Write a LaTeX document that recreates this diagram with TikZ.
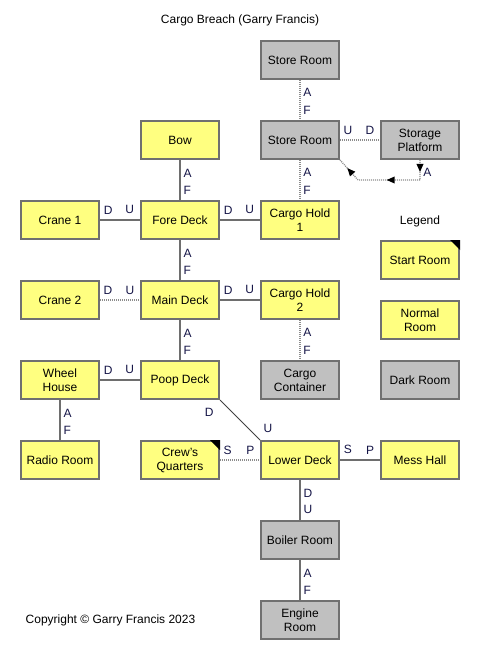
\documentclass[tikz,border=0pt]{standalone}
\usepackage{fontspec}
\setmainfont{Liberation Sans}
\usepackage{tikz}
\usetikzlibrary{arrows.meta,decorations.markings}
\definecolor{roomyellow}{RGB}{255, 255, 128}
\definecolor{roomgray}{RGB}{192, 192, 192}
\definecolor{edgegray}{RGB}{112, 112, 112}
\definecolor{linkgray}{RGB}{110, 110, 110}
\definecolor{dotgray}{RGB}{140, 140, 140}
\definecolor{labelnavy}{RGB}{20, 20, 70}

\begin{document}
\begin{tikzpicture}[x=0.75pt, y=-0.75pt,
    every node/.style={font=\fontsize{9}{10.5}\selectfont},
    room/.style={rectangle, draw=edgegray, line width=1.5pt, fill=roomyellow, minimum width=58.5pt, minimum height=28.5pt, inner sep=1pt, align=center},
    darkroom/.style={room, fill=roomgray},
    conn/.style={draw=linkgray, line width=1.4pt},
    dconn/.style={draw=dotgray, line width=1pt, dash pattern=on 0.75pt off 0.75pt},
    lbl/.style={inner sep=1pt, text=labelnavy},
    hl/.style={lbl, pos=0, anchor=south west, xshift=1.25pt, yshift=2.75pt},
    hr/.style={lbl, pos=1, anchor=south east, xshift=-2.75pt, yshift=2.75pt},
    vt/.style={lbl, pos=0, anchor=north west, xshift=1pt, yshift=-5pt},
    vb/.style={lbl, pos=1, anchor=south west, xshift=1pt, yshift=2.75pt}
]
\useasboundingbox (0,0) rectangle (480,660);

% Title
\node (title) at (240,20) {Cargo Breach (Garry Francis)};

% Rooms
\node[darkroom] (store1) at (300,60) {Store Room};
\node[room] (bow) at (180,140) {Bow};
\node[darkroom] (store2) at (300,140) {Store Room};
\node[darkroom] (plat) at (420,140) {Storage\\Platform};
\node[room] (crane1) at (60,220) {Crane 1};
\node[room] (fore) at (180,220) {Fore Deck};
\node[room] (hold1) at (300,220) {Cargo Hold\\1};
\node[room] (crane2) at (60,300) {Crane 2};
\node[room] (main) at (180,300) {Main Deck};
\node[room] (hold2) at (300,300) {Cargo Hold\\2};
\node[room] (wheel) at (60,380) {Wheel\\House};
\node[room] (poop) at (180,380) {Poop Deck};
\node[darkroom] (container) at (300,380) {Cargo\\Container};
\node[room] (radio) at (60,460) {Radio Room};
\node[room] (crew) at (180,460) {Crew{\char"27}s\\Quarters};
\node[room] (lower) at (300,460) {Lower Deck};
\node[room] (mess) at (420,460) {Mess Hall};
\node[darkroom] (boiler) at (300,540) {Boiler Room};
\node[darkroom] (engine) at (300,620) {Engine\\Room};

% Start room marker
\fill[black] (crew.north east) -- ++(-10,0) -- ++(10,10) -- cycle;

% Connections
\draw[dconn] (store1) -- node[vt] {A} node[vb] {F} (store2);
\draw[dconn] (store2) -- node[vt] {A} node[vb] {F} (hold1);
\draw[dconn] (store2) -- node[hl] {U} node[hr] {D} (plat);
\draw[conn] (bow) -- node[vt] {A} node[vb] {F} (fore);
\draw[conn] (crane1) -- node[hl] {D} node[hr] {U} (fore);
\draw[conn] (fore) -- node[hl] {D} node[hr] {U} (hold1);
\draw[conn] (fore) -- node[vt] {A} node[vb] {F} (main);
\draw[dconn] (crane2) -- node[hl] {D} node[hr] {U} (main);
\draw[conn] (main) -- node[hl] {D} node[hr] {U} (hold2);
\draw[conn] (main) -- node[vt] {A} node[vb] {F} (poop);
\draw[dconn] (hold2) -- node[vt] {A} node[vb] {F} (container);
\draw[conn] (wheel) -- node[hl] {D} node[hr] {U} (poop);
\draw[conn] (wheel) -- node[vt] {A} node[vb] {F} (radio);
\draw[draw=black!75, line width=0.6pt] (poop.south east) -- node[lbl, pos=0, anchor=north east, xshift=-3.5pt, yshift=-5pt] {D} node[lbl, pos=1, anchor=south west, xshift=1.5pt, yshift=4.5pt] {U} (lower.north west);
\draw[dconn] (crew) -- node[hl] {S} node[hr] {P} (lower);
\draw[conn] (lower) -- node[hl] {S} node[hr] {P} (mess);
\draw[conn] (lower) -- node[vt] {D} node[vb] {U} (boiler);
\draw[conn] (boiler) -- node[vt] {A} node[vb] {F} (engine);

% One-way link from the platform
\coordinate (platdrop) at (420,180);
\coordinate (platturn) at (358,180);
\draw[dconn, postaction={decorate}, decoration={markings,
    mark=at position 0.11 with {\arrow[black]{Triangle[length=6pt, width=5pt]}},
    mark=at position 0.49 with {\arrow[black]{Triangle[length=6pt, width=5pt]}},
    mark=at position 0.90 with {\arrow[black]{Triangle[length=6pt, width=5pt]}}}]
    (plat.south) -- node[vt] {A} (platdrop) -- (platturn) -- (store2.south east);

% Legend
\node (legend) at (420,221) {Legend};
\node[room] (legstart) at (420,260) {Start Room};
\fill[black] (legstart.north east) -- ++(-10,0) -- ++(10,10) -- cycle;
\node[room] (legnormal) at (420,320) {Normal\\Room};
\node[darkroom] (legdark) at (420,380) {Dark Room};

% Copyright
\node[anchor=west] (copy) at (21,620) {Copyright © Garry Francis 2023};

\end{tikzpicture}
\end{document}
